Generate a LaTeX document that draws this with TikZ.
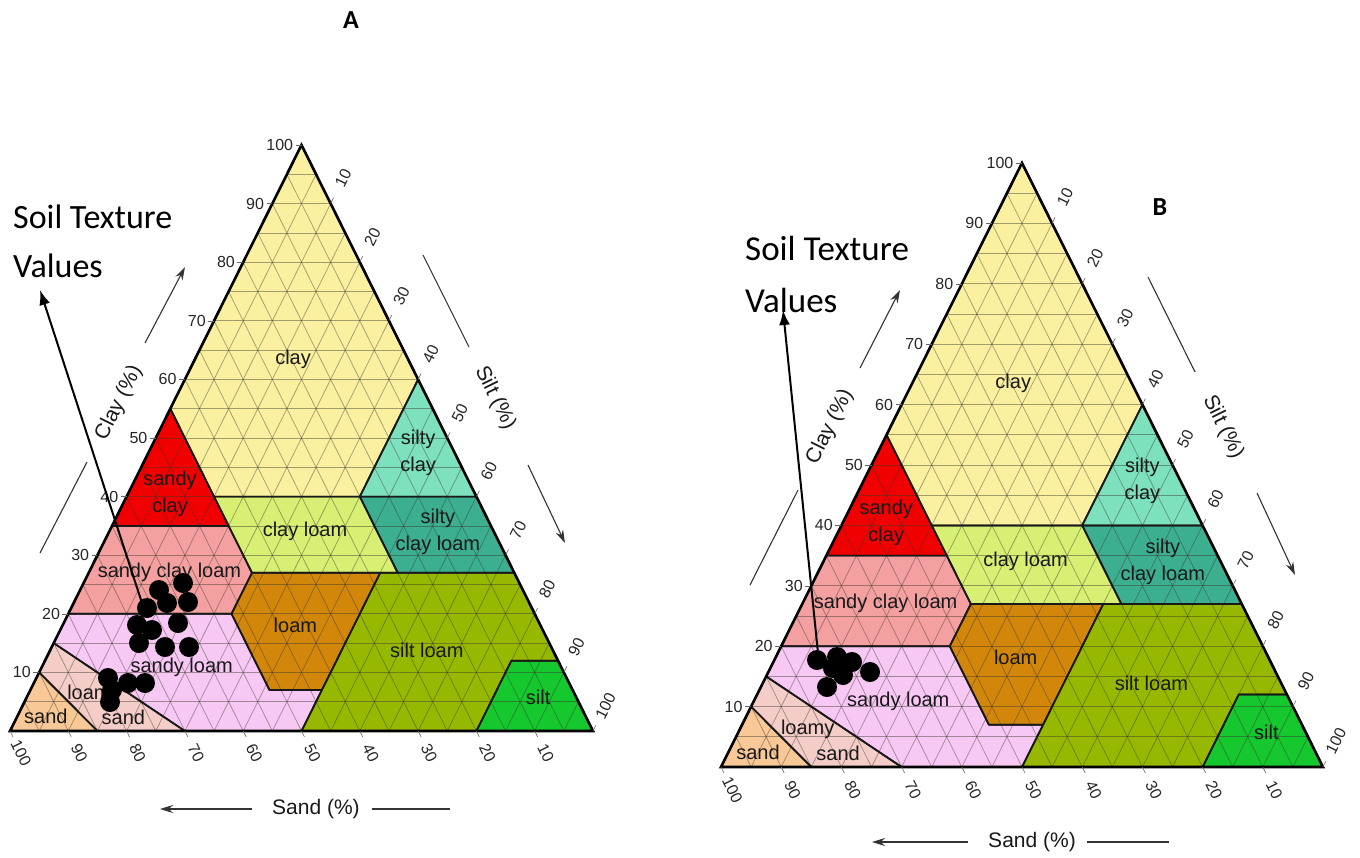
\documentclass[tikz,border=0pt]{standalone}
\usepackage{fontspec}
\setmainfont{Liberation Sans}
\newfontfamily\calfont{Carlito}
\usetikzlibrary{arrows.meta}

\definecolor{cClay}{RGB}{250,240,160}
\definecolor{cSandyClay}{RGB}{240,0,0}
\definecolor{cSiltyClay}{RGB}{125,225,190}
\definecolor{cClayLoam}{RGB}{215,240,115}
\definecolor{cSiltyClayLoam}{RGB}{60,175,145}
\definecolor{cSandyClayLoam}{RGB}{245,160,160}
\definecolor{cLoam}{RGB}{210,135,10}
\definecolor{cSiltLoam}{RGB}{150,185,0}
\definecolor{cSilt}{RGB}{20,200,45}
\definecolor{cSandyLoam}{RGB}{248,200,245}
\definecolor{cLoamySand}{RGB}{245,205,200}
\definecolor{cSand}{RGB}{248,200,150}

\tikzset{
	gridline/.style={black!80!olive,opacity=0.45,line width=0.7pt},
	zone/.style={draw=black!90,line width=1.7pt,line join=round},
	frame/.style={draw=black,line width=2.6pt},
	zonelbl/.style={font=\fontsize{20}{27}\selectfont,text=black!90,align=center,inner sep=0pt},
	ticklbl/.style={font=\fontsize{16}{18}\selectfont,text=black!85,inner sep=0pt},
	tickmark/.style={black!60,line width=0.6pt},
	axislbl/.style={font=\fontsize{21}{24}\selectfont,text=black!90,inner sep=0pt},
	axisline/.style={black!80,line width=1.1pt},
	axisarrow/.style={axisline,-{Stealth[length=13pt,width=8pt]}},
	dot/.style={circle,fill=black,inner sep=0pt,minimum size=20pt},
	pointer/.style={line width=2pt,-{Latex[length=15pt,width=11pt]}},
	soiltxt/.style={font=\calfont\fontsize{34}{40}\selectfont,anchor=base west,inner sep=0pt},
	panel/.style={font=\calfont\bfseries\fontsize{26}{30}\selectfont},
	triA/.style={shift={(10,731)},x={(5.83pt,0pt)},y={(2.915pt,5.86pt)}},
	triB/.style={shift={(721,767)},x={(6.02pt,0pt)},y={(3.01pt,6.04pt)}}
}

% texture classes, in (silt,clay)
\newcommand\pSand{(0,0) -- (15,0) -- (0,10) -- cycle}
\newcommand\pLoamySand{(15,0) -- (30,0) -- (0,15) -- (0,10) -- cycle}
\newcommand\pSandyLoam{(30,0) -- (50,0) -- (50,7) -- (41,7) -- (28,20) -- (0,20) -- (0,15) -- cycle}
\newcommand\pSandyClayLoam{(0,20) -- (28,20) -- (28,27) -- (20,35) -- (0,35) -- cycle}
\newcommand\pSandyClay{(0,35) -- (20,35) -- (0,55) -- cycle}
\newcommand\pLoam{(28,20) -- (41,7) -- (50,7) -- (50,27) -- (28,27) -- cycle}
\newcommand\pClayLoam{(28,27) -- (53,27) -- (40,40) -- (15,40) -- cycle}
\newcommand\pClay{(0,55) -- (15,40) -- (40,40) -- (40,60) -- (0,100) -- cycle}
\newcommand\pSiltyClay{(40,40) -- (60,40) -- (40,60) -- cycle}
\newcommand\pSiltyClayLoam{(53,27) -- (73,27) -- (60,40) -- (40,40) -- cycle}
\newcommand\pSiltLoam{(50,0) -- (80,0) -- (80,12) -- (88,12) -- (73,27) -- (50,27) -- cycle}
\newcommand\pSilt{(80,0) -- (100,0) -- (88,12) -- (80,12) -- cycle}

\newcommand\soiltri[1]{%
	\fill[cSand] \pSand;
	\fill[cLoamySand] \pLoamySand;
	\fill[cSandyLoam] \pSandyLoam;
	\fill[cSandyClayLoam] \pSandyClayLoam;
	\fill[cSandyClay] \pSandyClay;
	\fill[cLoam] \pLoam;
	\fill[cClayLoam] \pClayLoam;
	\fill[cClay] \pClay;
	\fill[cSiltyClay] \pSiltyClay;
	\fill[cSiltyClayLoam] \pSiltyClayLoam;
	\fill[cSiltLoam] \pSiltLoam;
	\fill[cSilt] \pSilt;
	% grid
	\foreach \i in {5,10,...,95}{
		\draw[gridline] (0,\i) -- ({100-\i},\i);
		\draw[gridline] (\i,0) -- (\i,{100-\i});
		\draw[gridline] ({100-\i},0) -- (0,{100-\i});
	}
	\draw[zone] \pSand;
	\draw[zone] \pLoamySand;
	\draw[zone] \pSandyLoam;
	\draw[zone] \pSandyClayLoam;
	\draw[zone] \pSandyClay;
	\draw[zone] \pLoam;
	\draw[zone] \pClayLoam;
	\draw[zone] \pClay;
	\draw[zone] \pSiltyClay;
	\draw[zone] \pSiltyClayLoam;
	\draw[zone] \pSiltLoam;
	\draw[zone] \pSilt;
	\draw[frame] (0,0) -- (100,0) -- (0,100) -- cycle;
	% axis ticks
	\foreach \v in {10,20,...,100}{
		\draw[tickmark] (0,\v) -- (-1,\v);
		\node[ticklbl,anchor=east] (#1clay\v) at (-1.4,\v) {\v};
		\draw[tickmark] (\v,{100-\v}) -- (\v,{101-\v});
		\node[ticklbl,rotate=63.6] (#1silt\v) at (\v,{104.3-\v}) {\v};
		\draw[tickmark] ({100-\v},0) -- ({101-\v},-1);
		\node[ticklbl,rotate=-63.6] (#1sand\v) at ({103.8-\v},-3.8) {\v};
	}
	% class names
	\node[zonelbl] (#1nClay) at (16.8,63.5) {clay};
	\node[zonelbl] (#1nSandyClay) at (7.2,40.5) {sandy\\clay};
	\node[zonelbl] (#1nSiltyClay) at (46.3,47.4) {silty\\clay};
	\node[zonelbl] (#1nClayLoam) at (33.6,34) {clay loam};
	\node[zonelbl] (#1nSiltyClayLoam) at (56.4,34) {silty\\clay loam};
	\node[zonelbl] (#1nSandyClayLoam) at (13.8,27.1) {sandy clay loam};
	\node[zonelbl] (#1nLoam) at (39.9,18.1) {loam};
	\node[zonelbl] (#1nSiltLoam) at (64.6,13.8) {silt loam};
	\node[zonelbl] (#1nSilt) at (87.7,5.8) {silt};
	\node[zonelbl] (#1nSandyLoam) at (24,10.9) {sandy loam};
	\node[zonelbl] (#1nLoamy) at (11.3,6.2) {loamy};
	\node[zonelbl] (#1nLoamySand) at (18.3,2.3) {sand};
	\node[zonelbl] (#1nSand) at (4.9,2.5) {sand};
}

\begin{document}
\begin{tikzpicture}[x=1pt,y=-1pt]
	\useasboundingbox (0,0) rectangle (1360,857);
	\fill[white] (0,0) rectangle (1360,857);

	% panel A
	\begin{scope}[triA]
		\soiltri{A}
	\end{scope}
	\node[panel] (panA) at (351,20) {A};
	\node[axislbl,rotate=63.6] (clayA) at (119,403) {Clay (\%)};
	\node[axislbl,rotate=-63.6] (siltA) at (495,398) {Silt (\%)};
	\node[axislbl] (sandA) at (316,809) {Sand (\%)};
	\draw[axisarrow] (145,343) -- (185,267);
	\draw[axisline] (40,553) -- (87,462);
	\draw[axisline] (423,255) -- (469,347);
	\draw[axisarrow] (528,465) -- (565,543);
	\draw[axisarrow] ([xshift=-20pt]sandA.west) -- ++(-92,0);
	\draw[axisline] ([xshift=12pt]sandA.east) -- ++(78,0);
	\foreach \p [count=\k] in {(159,590),(183,583),(167,603),(188,602),(147,608),(137,625),(152,630),(178,623),(139,643),(165,647),(189,647),(108,678),(128,683),(145,683),(112,690),(110,702)}
		\node[dot] (dA\k) at \p {};
	\node[soiltxt] (soilA) at (13,228) {Soil Texture};
	\node[soiltxt] (valA) at (13,277) {Values};
	\coordinate (fromA) at (142,603);
	\coordinate (tipA) at (40,290);
	\draw[pointer] (fromA) -- (tipA);

	% panel B
	\begin{scope}[triB]
		\soiltri{B}
	\end{scope}
	\node[panel] (panB) at (1160,207) {B};
	\node[axislbl,rotate=63.6] (clayB) at (830,427) {Clay (\%)};
	\node[axislbl,rotate=-63.6] (siltB) at (1223,427) {Silt (\%)};
	\node[axislbl] (sandB) at (1032,842) {Sand (\%)};
	\draw[axisarrow] (860,368) -- (900,290);
	\draw[axisline] (750,585) -- (798,490);
	\draw[axisline] (1148,277) -- (1195,372);
	\draw[axisarrow] (1257,493) -- (1295,575);
	\draw[axisarrow] ([xshift=-20pt]sandB.west) -- ++(-96,0);
	\draw[axisline] ([xshift=11pt]sandB.east) -- ++(82,0);
	\foreach \p [count=\k] in {(817,660),(837,657),(852,662),(843,675),(827,687),(870,672),(833,668)}
		\node[dot] (dB\k) at \p {};
	\node[soiltxt,font=\calfont\fontsize{35}{40}\selectfont] (soilB) at (745,260) {Soil Texture};
	\node[soiltxt,font=\calfont\fontsize{35}{40}\selectfont] (valB) at (745,312) {Values};
	\coordinate (fromB) at (818,653);
	\coordinate (tipB) at (783,310);
	\draw[pointer] (fromB) -- (tipB);
\end{tikzpicture}
\end{document}
